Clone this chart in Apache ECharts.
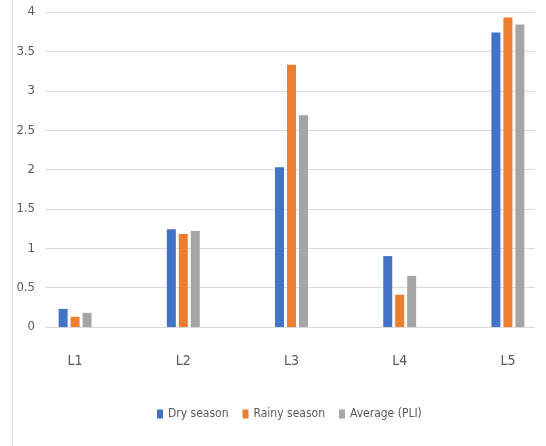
<!DOCTYPE html>
<html>
<head>
<meta charset="utf-8">
<style>
  html, body { margin: 0; padding: 0; background: #ffffff; }
  #chart { width: 546px; height: 446px; }
</style>
<script src="https://cdn.jsdelivr.net/npm/echarts@6/dist/echarts.min.js"></script>
</head>
<body>
<div id="chart"></div>
<script>
// Sampling locations
const categories = ['L1', 'L2', 'L3', 'L4', 'L5'];

// Pollution load index by season
const drySeason = [0.23, 1.24, 2.03, 0.90, 3.74];
const rainySeason = [0.13, 1.18, 3.33, 0.41, 3.93];
const averagePLI = [0.18, 1.22, 2.69, 0.65, 3.84];

const seriesNames = ['Dry season', 'Rainy season', 'Average (PLI)'];
const seriesColors = ['#4472C4', '#ED7D31', '#A5A5A5'];

const FONT = '"Liberation Sans Narrow", "DejaVu Sans Condensed", sans-serif';
const TEXT = '#595959';

const chart = echarts.init(document.getElementById('chart'), null, { renderer: 'canvas' });

const seriesData = [drySeason, rainySeason, averagePLI];

chart.setOption({
  animation: false,
  backgroundColor: '#ffffff',
  textStyle: { fontFamily: FONT },
  grid: [
    // value scale, labels and gridlines
    { left: 45, right: 11, top: 12, bottom: 119, outerBoundsMode: 'none' },
    // category placement for the clustered bars (slots run past the right edge)
    { left: 21, width: 541, top: 12, bottom: 119, outerBoundsMode: 'none' }
  ],
  xAxis: [
    {
      gridIndex: 0, type: 'value', min: 0, max: 1,
      axisLine: { show: false }, axisTick: { show: false },
      axisLabel: { show: false }, splitLine: { show: false }
    },
    {
      gridIndex: 1, type: 'category', data: categories,
      axisLine: { show: false }, axisTick: { show: false },
      axisLabel: { color: TEXT, fontSize: 14, fontFamily: FONT, margin: 27 }
    }
  ],
  yAxis: [
    {
      gridIndex: 0, type: 'value', min: 0, max: 4, interval: 0.5,
      axisLine: { show: false }, axisTick: { show: false },
      axisLabel: { color: TEXT, fontSize: 13, fontFamily: FONT, margin: 10 },
      splitLine: { lineStyle: { color: '#D9D9D9', width: 1 } }
    },
    {
      gridIndex: 1, type: 'value', min: 0, max: 4,
      show: false, splitLine: { show: false }
    }
  ],
  legend: {
    data: seriesNames,
    left: 152, top: 403,
    itemWidth: 6, itemHeight: 9, itemGap: 14,
    icon: 'rect',
    textStyle: { color: TEXT, fontSize: 12, fontFamily: FONT }
  },
  series: seriesNames.map((name, i) => ({
    name: name,
    type: 'bar',
    xAxisIndex: 1,
    yAxisIndex: 1,
    data: seriesData[i],
    barWidth: 9,
    barGap: '33%',
    itemStyle: { color: seriesColors[i] }
  })),
  graphic: [
    {
      type: 'line', silent: true,
      shape: { x1: 12.5, y1: 0, x2: 12.5, y2: 446 },
      style: { stroke: '#D9D9D9', lineWidth: 1 }
    }
  ]
});
</script>
</body>
</html>
